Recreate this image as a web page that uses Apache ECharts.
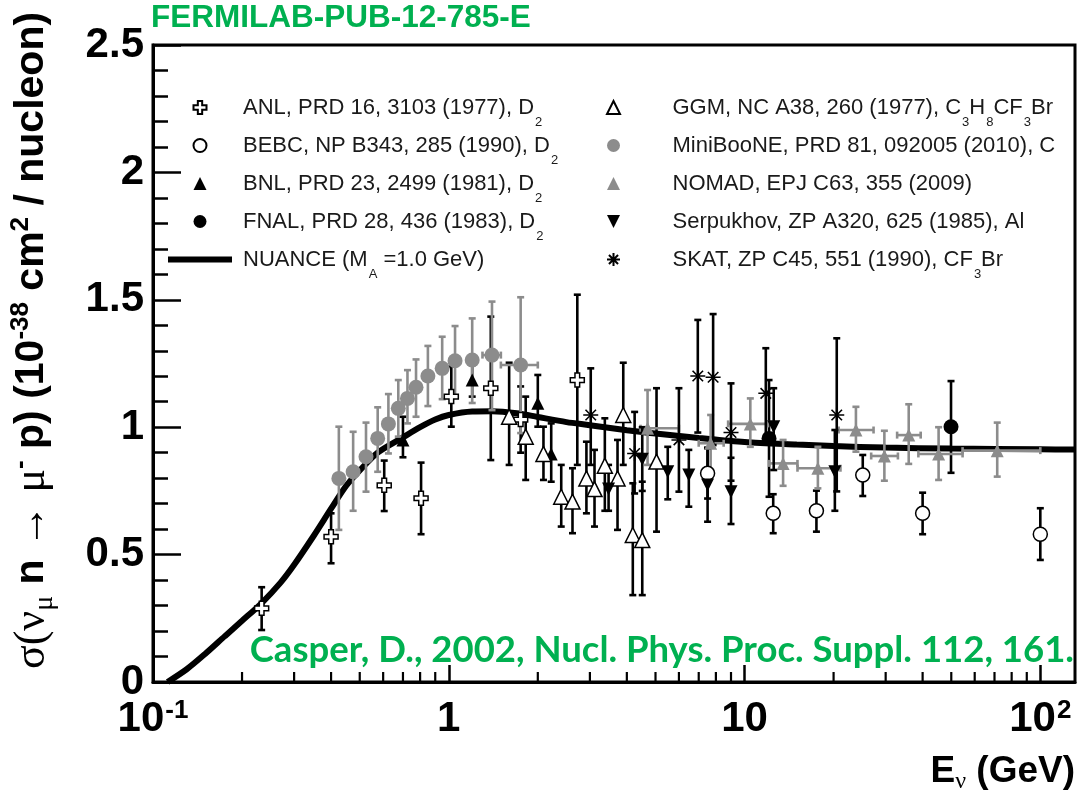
<!DOCTYPE html>
<html>
<head>
<meta charset="utf-8">
<script src="https://cdn.jsdelivr.net/npm/echarts@6/dist/echarts.min.js"></script>
<style>
  html, body { margin: 0; padding: 0; background: #fff; }
  #chart { width: 1080px; height: 798px; }
</style>
</head>
<body>
<div id="chart"></div>
<script>
// Quasi-elastic nu_mu n -> mu- p cross section per nucleon versus neutrino energy.
// Measurement rows: [E (GeV), sigma, sigma low, sigma high, E low, E high]
const ANL = [
  [0.233, 0.289, 0.204, 0.372],
  [0.40, 0.570, 0.466, 0.662],
  [0.605, 0.772, 0.671, 0.869],
  [0.806, 0.721, 0.580, 0.861],
  [1.02, 1.120, 1.002, 1.238],
  [1.387, 1.153, 0.871, 1.434],
  [1.75, 1.030, 0.900, 1.160],
  [2.72, 1.185, 0.852, 1.520]
];
const BEBC = [
  [7.5, 0.819, 0.720, 0.920],
  [12.5, 0.662, 0.584, 0.737],
  [17.5, 0.672, 0.590, 0.751],
  [25.1, 0.812, 0.730, 0.891],
  [40.0, 0.662, 0.580, 0.743],
  [100, 0.580, 0.479, 0.682]
];
const BNL = [
  [0.70, 0.950, 0.882, 1.041],
  [1.2, 1.185, 1.120, 1.244],
  [2.0, 1.094, 1.002, 1.205],
  [2.22, 0.895, 0.786, 1.015]
];
const FNAL = [
  [12.1, 0.956, 0.727, 1.185],
  [49.9, 1.002, 0.821, 1.181]
];
const GGM = [
  [1.6, 1.041, 0.852, 1.253],
  [1.82, 0.963, 0.793, 1.120],
  [2.09, 0.895, 0.793, 1.002],
  [2.40, 0.727, 0.610, 0.852],
  [2.62, 0.708, 0.584, 0.839],
  [2.92, 0.799, 0.662, 0.943],
  [3.11, 0.757, 0.610, 0.911],
  [3.37, 0.849, 0.672, 1.035],
  [3.72, 0.799, 0.597, 0.950],
  [3.89, 1.048, 0.852, 1.253],
  [4.19, 0.577, 0.341, 0.780],
  [4.51, 0.557, 0.341, 0.786],
  [5.04, 0.865, 0.590, 1.153]
];
const MINIBOONE = [
  [0.425, 0.799, 0.597, 1.002],
  [0.475, 0.825, 0.672, 0.982],
  [0.525, 0.884, 0.747, 1.018],
  [0.575, 0.956, 0.825, 1.078],
  [0.625, 1.013, 0.897, 1.130],
  [0.675, 1.074, 0.963, 1.185],
  [0.725, 1.113, 1.015, 1.224],
  [0.775, 1.157, 1.041, 1.266],
  [0.85, 1.201, 1.083, 1.319],
  [0.95, 1.231, 1.110, 1.355],
  [1.05, 1.261, 1.120, 1.397],
  [1.2, 1.264, 1.095, 1.427],
  [1.4, 1.283, 1.067, 1.493, 1.3, 1.5],
  [1.75, 1.244, 0.977, 1.510, 1.5, 2.0]
];
const NOMAD = [
  [4.7, 0.996, 0.852, 1.146, 4.45, 6.0],
  [7.68, 0.937, 0.832, 1.048, 7.0, 8.5],
  [10.46, 1.013, 0.923, 1.113, 8.8, 12.0],
  [13.5, 0.858, 0.770, 0.950, 12.1, 15.1],
  [17.7, 0.839, 0.760, 0.923, 15.1, 21.1],
  [23.8, 0.989, 0.904, 1.080, 20.8, 27.3],
  [29.7, 0.887, 0.790, 0.986, 26.8, 33.0],
  [35.9, 0.969, 0.856, 1.090, 32.8, 39.4],
  [45.3, 0.895, 0.793, 1.000, 38.7, 54.6],
  [71.5, 0.908, 0.806, 1.018, 54.6, 100]
];
const SERPUKHOV = [
  [3.47, 0.757, 0.672, 0.852],
  [4.51, 0.874, 0.750, 1.000],
  [5.5, 0.825, 0.717, 0.923],
  [6.48, 0.812, 0.688, 0.911],
  [7.5, 0.773, 0.629, 0.917],
  [9.0, 0.747, 0.620, 0.880],
  [12.55, 1.002, 0.832, 1.153],
  [20.2, 0.825, 0.672, 0.989]
];
const SKAT = [
  [3.02, 1.048, 0.852, 1.231],
  [4.25, 0.897, 0.740, 1.060],
  [6.0, 0.950, 0.747, 1.153],
  [6.95, 1.201, 0.979, 1.421],
  [7.83, 1.196, 0.930, 1.444],
  [9.0, 0.979, 0.790, 1.172],
  [11.8, 1.133, 0.956, 1.310],
  [20.5, 1.048, 0.748, 1.349]
];

// NUANCE prediction (M_A = 1.0 GeV)
const nuanceE = [0.112, 0.13, 0.15, 0.175, 0.2, 0.233, 0.27, 0.3, 0.35, 0.4, 0.45, 0.5, 0.575,
  0.7, 0.8, 0.9, 1.0, 1.2, 1.4, 1.7, 2.0, 2.5, 3.0, 4.0, 5.0, 7.0, 10, 15, 20, 30, 50, 100, 131];
const nuanceSigma = [0, 0.05, 0.11, 0.18, 0.24, 0.31, 0.39, 0.46, 0.575, 0.68, 0.77, 0.83, 0.9,
  0.96, 1.0, 1.03, 1.048, 1.062, 1.063, 1.055, 1.04, 1.02, 1.008, 0.988, 0.975, 0.958, 0.942,
  0.932, 0.926, 0.92, 0.916, 0.913, 0.912];

// Axis ticks and labels
const yTickLabels = ['0', '0.5', '1', '1.5', '2', '2.5'];
const xTickValues = [0.1, 1, 10, 100];
const xTickLabels = ['{b|10}{p|-1}', '{b|1}', '{b|10}', '{b|10}{p|2}'];
const xMinorTicks = [0.2, 0.3, 0.4, 0.5, 0.6, 0.7, 0.8, 0.9, 2, 3, 4, 5, 6, 7, 8, 9,
  20, 30, 40, 50, 60, 70, 80, 90];

// Legend entries
const legendNames = ['ANL', 'BEBC', 'BNL', 'FNAL', 'NUANCE', 'GGM', 'MiniBooNE', 'NOMAD', 'Serpukhov', 'SKAT'];
const legendLabels = [
  'ANL, PRD 16, 3103 (1977), D{s|2}',
  'BEBC, NP B343, 285 (1990), D{s|2}',
  'BNL, PRD 23, 2499 (1981), D{s|2}',
  'FNAL, PRD 28, 436 (1983), D{s|2}',
  'NUANCE (M{s|A} =1.0 GeV)',
  'GGM, NC A38, 260 (1977), C{s|3}H{s|8}CF{s|3}Br',
  'MiniBooNE, PRD 81, 092005 (2010), C',
  'NOMAD, EPJ C63, 355 (2009)',
  'Serpukhov, ZP A320, 625 (1985), Al',
  'SKAT, ZP C45, 551 (1990), CF{s|3}Br'
];

const SANS = 'Liberation Sans, Arial, Helvetica, sans-serif';
const SERIF = 'Liberation Serif, DejaVu Serif, serif';
const GREY = '#8c8c8c';

const SYM = {
  cross: 'path://M-1,-3L1,-3L1,-1L3,-1L3,1L1,1L1,3L-1,3L-1,1L-3,1L-3,-1L-1,-1Z',
  tri: 'path://M1,0L2,2L0,2Z',
  triDown: 'path://M0,0L2,0L1,2Z',
  star: 'path://M0,-1L0,1M-1,0L1,0M-0.7,-0.7L0.7,0.7M-0.7,0.7L0.7,-0.7',
  bar: 'path://M0,0H64V6H0Z'
};

const chart = echarts.init(document.getElementById('chart'), null, { renderer: 'canvas' });

function errorBarRenderer(color) {
  return function (params, api) {
    const e = api.value(0), s = api.value(1);
    const lo = api.coord([e, api.value(2)]);
    const hi = api.coord([e, api.value(3)]);
    const style = { stroke: color, lineWidth: 2.6 };
    const c = 3.5;
    const kids = [
      { type: 'line', shape: { x1: lo[0], y1: lo[1], x2: hi[0], y2: hi[1] }, style },
      { type: 'line', shape: { x1: lo[0] - c, y1: lo[1], x2: lo[0] + c, y2: lo[1] }, style },
      { type: 'line', shape: { x1: hi[0] - c, y1: hi[1], x2: hi[0] + c, y2: hi[1] }, style }
    ];
    const xl = api.value(4), xh = api.value(5);
    if (xl > 0 && xh > 0) {
      const l = api.coord([xl, s]), r = api.coord([xh, s]);
      kids.push(
        { type: 'line', shape: { x1: l[0], y1: l[1], x2: r[0], y2: r[1] }, style },
        { type: 'line', shape: { x1: l[0], y1: l[1] - c, x2: l[0], y2: l[1] + c }, style },
        { type: 'line', shape: { x1: r[0], y1: r[1] - c, x2: r[0], y2: r[1] + c }, style }
      );
    }
    return { type: 'group', children: kids };
  };
}

function errorSeries(rows, color) {
  return {
    type: 'custom',
    name: 'err',
    silent: true,
    z: 3,
    dimensions: ['e', 's', 'lo', 'hi', 'xl', 'xh'],
    encode: { x: 0, y: 1 },
    renderItem: errorBarRenderer(color),
    data: rows.map(r => [r[0], r[1], r[2], r[3], r.length > 4 ? r[4] : '-', r.length > 5 ? r[5] : '-'])
  };
}

function markerSeries(name, rows, symbol, size, fill, stroke, bw) {
  return {
    type: 'scatter',
    name,
    z: 5,
    symbol,
    symbolSize: size,
    itemStyle: { color: fill, borderColor: stroke, borderWidth: bw, opacity: 1 },
    data: rows.map(r => [r[0], r[1]])
  };
}

const groups = [
  ['ANL', ANL, SYM.cross, 14, '#fff', '#000', 1.5, '#000'],
  ['BEBC', BEBC, 'circle', 14, '#fff', '#000', 1.5, '#000'],
  ['BNL', BNL, SYM.tri, 13, '#000', '#000', 0, '#000'],
  ['FNAL', FNAL, 'circle', 15, '#000', '#000', 0, '#000'],
  ['GGM', GGM, SYM.tri, 15, '#fff', '#000', 1.5, '#000'],
  ['MiniBooNE', MINIBOONE, 'circle', 15, GREY, GREY, 0, GREY],
  ['NOMAD', NOMAD, SYM.tri, 13, GREY, GREY, 0, GREY],
  ['Serpukhov', SERPUKHOV, SYM.triDown, 13, '#000', '#000', 0, '#000'],
  ['SKAT', SKAT, SYM.star, 15, 'rgba(0,0,0,0)', '#000', 1.6, '#000']
];

const series = [];
series.push({
  type: 'line',
  name: 'NUANCE',
  z: 2,
  symbol: 'none',
  smooth: 0.3,
  lineStyle: { color: '#000', width: 6 },
  itemStyle: { color: '#000' },
  data: nuanceE.map((e, i) => [e, nuanceSigma[i]])
});
groups.forEach(g => series.push(errorSeries(g[1], g[7])));
groups.forEach(g => series.push(markerSeries(g[0], g[1], g[2], g[3], g[4], g[5], g[6])));

// minor ticks of the logarithmic energy axis
series.push({
  type: 'custom',
  name: 'minorTicks',
  silent: true,
  z: 6,
  clip: false,
  renderItem: function (params, api) {
    const p = api.coord([api.value(0), 0]);
    return { type: 'line', shape: { x1: p[0], y1: p[1], x2: p[0], y2: p[1] - 10 }, style: { stroke: '#000', lineWidth: 2.2 } };
  },
  data: xMinorTicks.map(v => [v, 0])
});

const legendText = {
  fontSize: 22,
  fontFamily: SANS,
  color: '#1a1a1a',
  lineHeight: 43,
  padding: [0, 0, 0, 6],
  rich: {
    s: { fontSize: 13, lineHeight: 13, fontFamily: SANS, color: '#1a1a1a', padding: [30, 0, 0, 1] }
  }
};
const legendFormat = name => legendLabels[legendNames.indexOf(name)];

const option = {
  animation: false,
  backgroundColor: '#fff',
  title: [
    {
      text: 'FERMILAB-PUB-12-785-E', left: 151, top: 2, padding: 0,
      textStyle: { color: '#00b050', fontSize: 31.5, fontWeight: 'bold', fontFamily: SANS }
    },
    {
      text: 'Casper, D., 2002, Nucl. Phys. Proc. Suppl. 112, 161.', right: 6, top: 632, padding: 0,
      textStyle: { color: '#00b050', fontSize: 36.5, fontWeight: 'bold', fontFamily: 'Lato, Open Sans, sans-serif' }
    }
  ],
  grid: {
    left: 152, right: 5, top: 45, bottom: 116,
    show: true, borderColor: '#000', borderWidth: 3, backgroundColor: 'transparent'
  },
  legend: [
    {
      data: legendNames.slice(0, 4).concat([{ name: 'NUANCE', icon: SYM.bar }]),
      orient: 'vertical', left: 168, top: 86, padding: 0,
      itemWidth: 64, itemHeight: 13, itemGap: -5,
      selectedMode: false,
      formatter: legendFormat,
      textStyle: legendText
    },
    {
      data: legendNames.slice(5),
      orient: 'vertical', left: 606, top: 86, padding: 0,
      itemWidth: 14, itemHeight: 13, itemGap: -5,
      selectedMode: false,
      formatter: legendFormat,
      textStyle: Object.assign({}, legendText, { padding: [0, 0, 0, 47] })
    }
  ],
  xAxis: {
    type: 'log',
    logBase: 10,
    min: 0.1,
    max: 131,
    axisLine: { show: true, lineStyle: { color: '#000', width: 3 } },
    axisTick: { show: true, inside: true, length: 17, lineStyle: { color: '#000', width: 2.5 } },
    splitLine: { show: false },
    axisLabel: {
      margin: 16,
      showMaxLabel: false,
      color: '#000',
      formatter: function (v) {
        for (let i = 0; i < xTickValues.length; i++) {
          if (Math.abs(Math.log10(v) - Math.log10(xTickValues[i])) < 1e-6) return xTickLabels[i];
        }
        return '';
      },
      rich: {
        b: { fontSize: 42, fontWeight: 'bold', fontFamily: SANS, color: '#000' },
        p: { fontSize: 26, fontWeight: 'bold', fontFamily: SANS, color: '#000', padding: [0, 0, 16, 1] }
      }
    },
    name: '{b|E}{n|ν}{b| (GeV)}',
    nameLocation: 'end',
    nameGap: 0,
    nameTextStyle: {
      align: 'right',
      verticalAlign: 'top',
      padding: [68, 0, 0, 0],
      rich: {
        b: { fontSize: 37, fontWeight: 'bold', fontFamily: SANS, color: '#000' },
        n: { fontSize: 24, fontFamily: SERIF, color: '#000', padding: [20, 0, 0, 0] }
      }
    }
  },
  yAxis: {
    type: 'value',
    min: 0,
    max: 2.5,
    interval: 0.5,
    axisLine: { show: true, lineStyle: { color: '#000', width: 3 } },
    axisTick: { show: true, inside: true, length: 28, lineStyle: { color: '#000', width: 2.5 } },
    minorTick: { show: true, splitNumber: 5, length: 15, lineStyle: { color: '#000', width: 2.5 } },
    splitLine: { show: false },
    minorSplitLine: { show: false },
    axisLabel: {
      margin: 9,
      color: '#000',
      fontSize: 42,
      fontWeight: 'bold',
      fontFamily: SANS,
      formatter: (v, i) => yTickLabels[i]
    },
    name: '{g|σ(ν}{gs|μ}{b| n }{g|→}{b| }{g|μ}{bs|-}{b| p) (10}{bs|-38}{b| cm}{bs|2}{b| / nucleon)}',
    nameLocation: 'middle',
    nameRotate: 90,
    nameGap: 94,
    nameTextStyle: {
      padding: [0, 0, 0, 46],
      rich: {
        b: { fontSize: 41, fontWeight: 'bold', fontFamily: SANS, color: '#000' },
        g: { fontSize: 44, fontFamily: SERIF, color: '#000' },
        gs: { fontSize: 28, fontFamily: SERIF, color: '#000', padding: [26, 0, 0, 0] },
        bs: { fontSize: 26, fontWeight: 'bold', fontFamily: SANS, color: '#000', padding: [0, 0, 22, 0] }
      }
    }
  },
  series
};

chart.setOption(option);
</script>
</body>
</html>
